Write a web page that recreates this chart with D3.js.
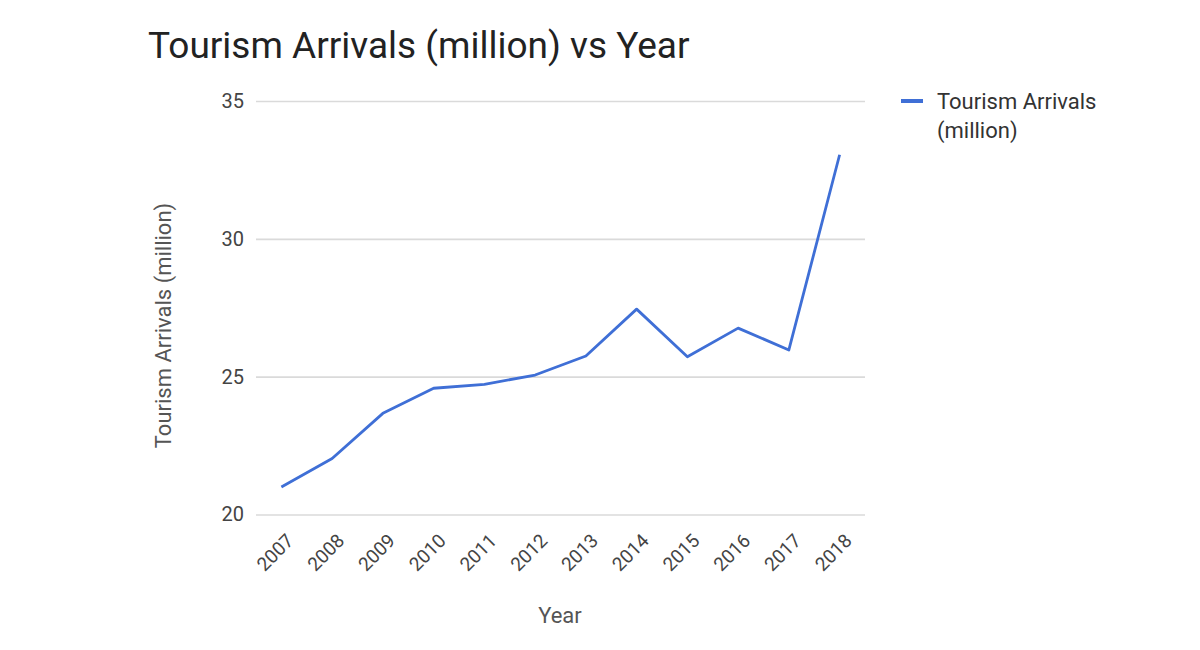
<!DOCTYPE html>
<html><head><meta charset="utf-8">
<script src="https://cdn.jsdelivr.net/npm/d3@7"></script>
<style>body{margin:0;background:#fff;font-family:Roboto,"Noto Sans",sans-serif;}</style>
</head><body>
<svg id="c" width="1200" height="650"></svg>
<script>
const years = ["2007","2008","2009","2010","2011","2012","2013","2014","2015","2016","2017","2018"];
const arrivals = [21.0, 22.03, 23.67, 24.58, 24.72, 25.06, 25.75, 27.45, 25.72, 26.76, 25.97, 33.05];
const yTicks = [20, 25, 30, 35];
const seriesName = "Tourism Arrivals (million)";
const legendLines = ["Tourism Arrivals", "(million)"];
const title = "Tourism Arrivals (million) vs Year";

const svg = d3.select("#c");
const L = 256, R = 865, T = 101, B = 514.5;
const x = d3.scalePoint().domain(years).range([L, R]).padding(0.5);
const y = d3.scaleLinear().domain([20, 35]).range([B, T]);

svg.append("text").attr("x", 148).attr("y", 58).attr("font-size", 37)
  .attr("fill", "#222").text(title);

const ya = svg.append("g").attr("transform", `translate(${L},0)`)
  .call(d3.axisLeft(y).tickValues(yTicks).tickSize(-(R - L)).tickPadding(12));
ya.select(".domain").remove();
ya.selectAll(".tick line").attr("stroke", "#dadada").attr("stroke-width", 1.6);
ya.selectAll(".tick text").attr("font-size", 20).attr("fill", "#444")
  .attr("font-family", "Roboto, sans-serif");

const xa = svg.append("g").attr("transform", `translate(0,${B})`)
  .call(d3.axisBottom(x).tickSize(0).tickPadding(0));
xa.select(".domain").remove();
xa.selectAll(".tick text").attr("font-size", 19).attr("fill", "#444")
  .attr("font-family", "Roboto, sans-serif")
  .attr("text-anchor", "end").attr("dy", null).attr("y", 0)
  .attr("transform", "translate(13,27.5) rotate(-45)");

const line = d3.line().x((d, i) => x(years[i])).y(d => y(d));
svg.append("path").datum(arrivals).attr("d", line).attr("fill", "none")
  .attr("stroke", "#3f6fd6").attr("stroke-width", 2.8).attr("stroke-linejoin", "round");

svg.append("text").attr("x", 560).attr("y", 623).attr("text-anchor", "middle")
  .attr("font-size", 22).attr("fill", "#555").text("Year");
svg.append("text").attr("transform", `translate(171,325.5) rotate(-90)`)
  .attr("text-anchor", "middle").attr("font-size", 22).attr("fill", "#555").text(seriesName);

const lg = svg.append("g");
lg.append("line").attr("x1", 901).attr("x2", 923).attr("y1", 101).attr("y2", 101)
  .attr("stroke", "#3f6fd6").attr("stroke-width", 4);
lg.selectAll("text.l").data(legendLines).join("text").attr("class", "l")
  .attr("x", 937).attr("y", (d, i) => 109 + i * 29).attr("font-size", 22).attr("fill", "#333").text(d => d);
</script>
</body></html>
